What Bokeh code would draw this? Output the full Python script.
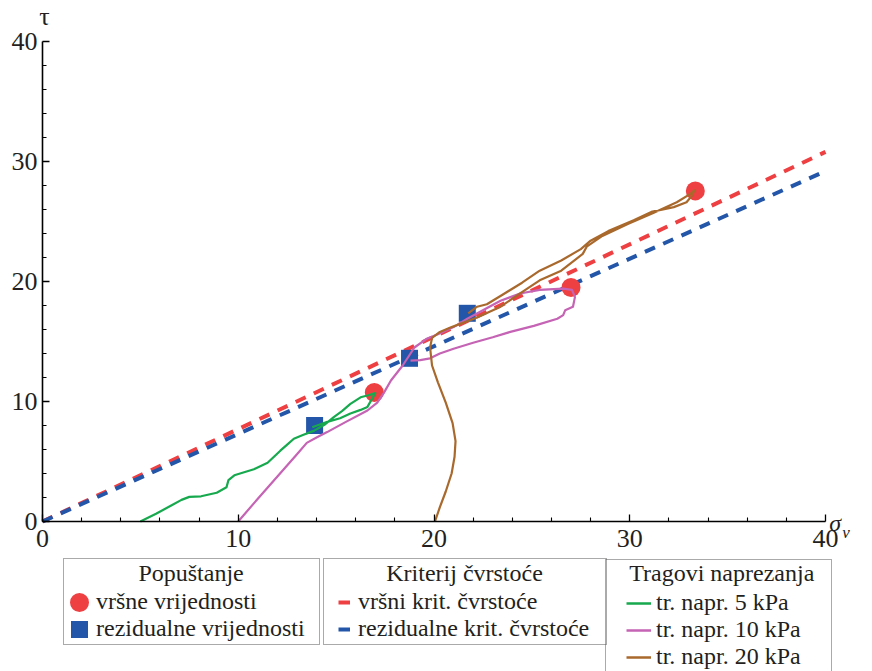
from bokeh.plotting import figure
from bokeh.models import Range1d, FixedTicker, Legend, LegendItem
from bokeh.core.properties import value
from bokeh.embed import file_html
from bokeh.resources import INLINE

# ---------------- data ----------------
peak_sigma = [16.95, 27.0, 33.35]
peak_tau = [10.75, 19.5, 27.55]
resid_sigma = [13.9, 18.75, 21.7]
resid_tau = [8.0, 13.6, 17.35]

crit_sigma = [0, 40]
peak_crit_tau = [0, 30.8]
resid_crit_tau = [0, 29.2]

path5_sigma = [5.0, 5.8, 6.6, 7.1, 7.5, 8.1, 8.9, 9.4, 9.5, 9.8, 10.8, 11.5, 12.15, 12.5,
               12.84, 13.3, 13.86, 14.4, 14.88, 15.3, 15.73, 16.25, 16.6, 17.0, 16.6, 16.25,
               15.73, 15.2, 14.55, 14.03, 13.78]
path5_tau = [0.0, 0.65, 1.35, 1.8, 2.05, 2.1, 2.4, 2.85, 3.45, 3.85, 4.35, 4.9, 5.9, 6.4,
             6.9, 7.2, 7.55, 8.05, 8.7, 9.2, 9.8, 10.35, 10.5, 10.7, 9.55, 9.3,
             9.0, 8.6, 8.3, 8.0, 7.85]

path10_sigma = [10.0, 11.0, 12.0, 13.0, 13.5, 14.0, 14.54, 15.5, 16.6, 17.1, 17.43, 17.8,
                18.4, 19.0, 19.6, 20.2, 21.0, 21.7, 22.5, 23.4, 24.4, 25.4, 26.6, 27.05,
                27.2, 27.1, 26.7, 26.6, 26.3, 25.1, 23.9, 23.0, 22.0, 21.0, 20.3, 19.8,
                19.3, 18.8]
path10_tau = [0.0, 1.9, 3.75, 5.6, 6.55, 7.0, 7.45, 8.3, 9.25, 9.9, 10.7, 11.75,
              13.0, 14.5, 15.2, 15.6, 16.2, 16.9, 17.6, 18.4, 19.0, 19.3, 19.4, 19.3,
              18.7, 17.9, 17.6, 17.2, 16.9, 16.3, 15.8, 15.35, 14.9, 14.4, 14.0, 13.6,
              13.45, 13.4]

path20_sigma = [20.05, 20.3, 20.6, 20.9, 21.05, 21.1, 20.95, 20.6, 20.2, 19.9, 19.8, 19.9,
                20.3, 20.9, 22.2, 23.4, 24.3, 25.4, 26.5, 27.6, 27.8, 28.6, 29.9, 31.2,
                32.4, 33.1, 33.3, 33.2, 32.9, 32.25, 31.1, 30.2, 28.9, 28.0, 27.5, 26.5,
                25.4, 24.5, 23.5, 22.7, 22.2, 21.75]
path20_tau = [0.0, 1.2, 2.5, 4.0, 5.4, 6.7, 8.2, 9.9, 11.6, 13.0, 14.5, 15.3,
              15.8, 16.2, 17.0, 17.9, 18.9, 20.1, 20.9, 22.3, 22.9, 23.8, 24.8, 25.7,
              26.6, 27.3, 27.6, 27.2, 26.6, 26.2, 25.8, 25.1, 24.2, 23.4, 22.7, 21.75,
              20.9, 19.9, 18.9, 18.1, 17.9, 17.35]

major_ticks = [0, 10, 20, 30, 40]
minor_ticks = [2, 4, 6, 8, 12, 14, 16, 18, 22, 24, 26, 28, 32, 34, 36, 38]

legend_titles = ["Popuštanje", "Kriterij čvrstoće", "Tragovi naprezanja"]
legend1_labels = ["vršne vrijednosti", "rezidualne vrijednosti"]
legend2_labels = ["vršni krit. čvrstoće", "rezidualne krit. čvrstoće"]
legend3_labels = ["tr. napr. 5 kPa", "tr. napr. 10 kPa", "tr. napr. 20 kPa"]

# ---------------- style / geometry ----------------
FONT = "Liberation Serif"
RED = "#ee3f42"
BLUE = "#2356a8"
GREEN = "#17a94e"
MAGENTA = "#c563b4"
BROWN = "#a9692d"
TXT = "#231f20"

W, H = 864, 671
X0_PX, Y0_PX = 42, 521          # pixel position of the origin
PX_X, PX_Y = 19.575, 12.0       # pixels per data unit

x_range = Range1d(-X0_PX / PX_X, (W - X0_PX) / PX_X)
y_range = Range1d(-(H - Y0_PX) / PX_Y, Y0_PX / PX_Y)

p = figure(width=W, height=H, output_backend="svg", toolbar_location=None,
           x_range=x_range, y_range=y_range, min_border=0)
p.outline_line_color = None
p.xgrid.visible = False
p.ygrid.visible = False

for ax in (p.xaxis[0], p.yaxis[0]):
    ax.fixed_location = 0
    ax.bounds = (0, 40)
    ax.ticker = FixedTicker(ticks=major_ticks, minor_ticks=minor_ticks)
    ax.axis_line_color = "black"
    ax.axis_line_width = 1.6
    ax.major_tick_in = 7
    ax.major_tick_out = 0
    ax.minor_tick_in = 4
    ax.minor_tick_out = 0
    ax.major_tick_line_width = 1.3
    ax.minor_tick_line_width = 1.1
    ax.major_label_text_font = FONT
    ax.major_label_text_font_size = "26px"
    ax.major_label_text_color = TXT
p.xaxis.major_label_standoff = 8
p.yaxis.major_label_standoff = 5

# criterion lines
p.line(crit_sigma, peak_crit_tau, line_color=RED, line_width=4, line_dash="11 9")
p.line(crit_sigma, resid_crit_tau, line_color=BLUE, line_width=4, line_dash="11 9")

# markers
p.scatter(peak_sigma, peak_tau, marker="circle", size=19, fill_color=RED, line_color=None)
p.scatter(resid_sigma, resid_tau, marker="square", size=17, fill_color=BLUE, line_color=None)

# stress paths
p.line(path5_sigma, path5_tau, line_color=GREEN, line_width=2.2, line_join="round")
p.line(path10_sigma, path10_tau, line_color=MAGENTA, line_width=2.2, line_join="round")
p.line(path20_sigma, path20_tau, line_color=BROWN, line_width=2.2, line_join="round")

# legend titles and axis names as text glyphs
title_x = [7.59, 21.56, 34.7]
title_y = [-4.3, -4.3, -4.3]
p.text(x=title_x, y=title_y, text=legend_titles, text_align="center",
       text_baseline="middle", text_font=value(FONT), text_font_size="24px",
       text_color=TXT)
p.text(x=[0.1], y=[42.1], text=["τ"], text_align="center", text_baseline="middle",
       text_font=value(FONT), text_font_size="26px", text_color=TXT)
p.text(x=[40.5], y=[-0.1], text=["σ"], text_align="center", text_baseline="middle",
       text_font=value(FONT), text_font_style="italic", text_font_size="24px",
       text_color=TXT)
p.text(x=[41.05], y=[-0.95], text=["v"], text_align="center", text_baseline="middle",
       text_font=value(FONT), text_font_style="italic", text_font_size="17px",
       text_color=TXT)

# legend-only renderers: a single point far outside the visible ranges
OFF = [-1000]
lg_peak = p.scatter(OFF, OFF, marker="circle", size=8, fill_color=RED, line_color=RED,
                    line_width=11)
lg_res = p.scatter(OFF, OFF, marker="square", size=8, fill_color=BLUE, line_color=BLUE,
                   line_width=9, line_join="miter")
lg_pc = p.line(OFF, OFF, line_color=RED, line_width=4, line_dash="0 12 12 50")
lg_rc = p.line(OFF, OFF, line_color=BLUE, line_width=4, line_dash="0 12 12 50")
lg_g = p.line(OFF, OFF, line_color=GREEN, line_width=2.4, line_dash="0 18 25 50")
lg_m = p.line(OFF, OFF, line_color=MAGENTA, line_width=2.4, line_dash="0 18 25 50")
lg_b = p.line(OFF, OFF, line_color=BROWN, line_width=2.4, line_dash="0 18 25 50")


def make_legend(items, loc, gw, standoff, lw):
    leg = Legend(items=items, location=loc, title="\u00a0",
                 title_text_font=FONT, title_text_font_size="24px",
                 title_standoff=0,
                 label_text_font=FONT, label_text_font_size="24px",
                 label_text_color=TXT,
                 glyph_width=gw, glyph_height=20, label_height=20,
                 label_standoff=standoff, label_width=lw,
                 spacing=0, padding=2, margin=0,
                 border_line_color="#555555", border_line_width=1.5,
                 background_fill_alpha=0.0)
    p.add_layout(leg, "center")
    return leg


make_legend([LegendItem(label=legend1_labels[0], renderers=[lg_peak]),
             LegendItem(label=legend1_labels[1], renderers=[lg_res])],
            (63, H - 645), 26, 4, 221)
make_legend([LegendItem(label=legend2_labels[0], renderers=[lg_pc]),
             LegendItem(label=legend2_labels[1], renderers=[lg_rc])],
            (323, H - 645), 24, 8, 246)
make_legend([LegendItem(label=legend3_labels[0], renderers=[lg_g]),
             LegendItem(label=legend3_labels[1], renderers=[lg_m]),
             LegendItem(label=legend3_labels[2], renderers=[lg_b])],
            (605, H - 673), 43, 5, 173)

open("out.html", "w").write(file_html(p, INLINE))
